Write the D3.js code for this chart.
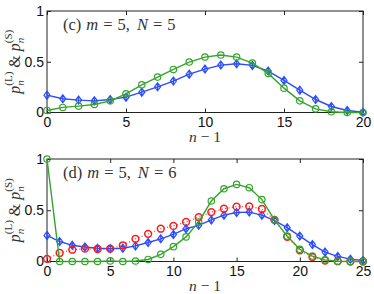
<!DOCTYPE html>
<html><head><meta charset="utf-8">
<script src="https://cdn.jsdelivr.net/npm/d3@7"></script>
<style>
html,body{margin:0;padding:0;background:#fff;}
svg{display:block;}
</style></head>
<body>
<svg id="chart" width="374" height="294"></svg>
<script>
// ---- data ----
const xC = d3.range(0, 21);
const blueC  = [0.171,0.135,0.122,0.115,0.128,0.151,0.200,0.253,0.310,0.378,0.428,0.467,0.480,0.464,0.408,0.316,0.220,0.128,0.059,0.020,0.003];
const greenC = [0.020,0.050,0.063,0.079,0.115,0.184,0.273,0.349,0.424,0.497,0.546,0.566,0.546,0.487,0.385,0.240,0.115,0.036,0.007,0.000,0.000];

const xD = d3.range(0, 26);
const blueD  = [0.254,0.195,0.158,0.142,0.129,0.125,0.129,0.152,0.185,0.221,0.264,0.320,0.353,0.406,0.452,0.478,0.482,0.452,0.399,0.330,0.248,0.165,0.092,0.050,0.023,0.010];
const redD   = [0.026,0.083,0.115,0.125,0.122,0.125,0.158,0.221,0.270,0.320,0.347,0.386,0.432,0.482,0.515,0.535,0.538,0.512,0.406,0.241,0.109,0.043,0.010,0.003,0.000,0.000];
const greenD = [1.000,0.000,0.000,0.000,0.000,0.006,0.000,0.005,0.020,0.070,0.145,0.240,0.386,0.590,0.710,0.752,0.720,0.604,0.406,0.248,0.119,0.053,0.016,0.003,0.000,0.000];

const xTicksC = [0,5,10,15,20];
const xTicksD = [0,5,10,15,20,25];
const yTicks = [0,0.5,1];
const yTickLabels = ["0","0.5","1"];
const labelC = ["(c)", "m", "5", "N", "5"];
const labelD = ["(d)", "m", "5", "N", "6"];

// ---- styles ----
const BLUE = "#2b4cff", GREEN = "#33a52a", RED = "#ff1a1a";
const svg = d3.select("#chart");

function panel(top, bottom, xs, xTicks, series, label) {
  const x = d3.scaleLinear().domain([xs[0], xs[xs.length-1]]).range([47, 363]);
  const y = d3.scaleLinear().domain([0, 1]).range([bottom, top]);
  const g = svg.append("g");

  g.append("rect").attr("x", 47).attr("y", top).attr("width", 316).attr("height", bottom - top)
    .attr("fill", "none").attr("stroke", "#222").attr("stroke-width", 1);

  const xb = g.append("g").attr("transform", `translate(0,${bottom})`)
    .call(d3.axisBottom(x).tickValues(xTicks).tickSize(-4).tickPadding(5).tickFormat(d3.format("d")));
  const xt = g.append("g").attr("transform", `translate(0,${top})`)
    .call(d3.axisTop(x).tickValues(xTicks).tickSize(-4).tickFormat(""));
  const yl = g.append("g").attr("transform", `translate(47,0)`)
    .call(d3.axisLeft(y).tickValues(yTicks).tickSize(-4).tickPadding(3).tickFormat((d,i)=>yTickLabels[i]));
  const yr = g.append("g").attr("transform", `translate(363,0)`)
    .call(d3.axisRight(y).tickValues(yTicks).tickSize(-4).tickFormat(""));
  [xb, xt, yl, yr].forEach(a => {
    a.select(".domain").remove();
    a.selectAll(".tick line").attr("stroke", "#222");
    a.selectAll("text").attr("font-family", "Liberation Sans, Arial, sans-serif")
      .attr("font-size", 14).attr("fill", "#111");
  });

  series.forEach(s => {
    const line = d3.line().x((d,i)=>x(xs[i])).y(d=>y(d));
    g.append("path").datum(s.values).attr("d", line).attr("fill", "none")
      .attr("stroke", s.color).attr("stroke-width", s.dotted ? 1.2 : 1.4)
      .attr("stroke-dasharray", s.dotted ? "1.2,2.2" : null)
      .attr("opacity", s.dotted ? 0.8 : 1);
    const m = g.append("g");
    s.values.forEach((v, i) => {
      const cx = x(xs[i]), cy = y(v);
      if (s.marker === "diamond") {
        m.append("path").attr("d", `M${cx},${cy-4}L${cx+3},${cy}L${cx},${cy+4}L${cx-3},${cy}Z M${cx},${cy-4}L${cx},${cy+4}`)
          .attr("fill", "none").attr("stroke", s.color).attr("stroke-width", 1.2);
      } else if (s.marker === "circleRed") {
        m.append("circle").attr("cx", cx).attr("cy", cy).attr("r", 3.4)
          .attr("fill", "none").attr("stroke", s.color).attr("stroke-width", 1.5);
      } else {
        m.append("circle").attr("cx", cx).attr("cy", cy).attr("r", 3.2)
          .attr("fill", "none").attr("stroke", s.color).attr("stroke-width", 1.2);
      }
    });
  });

  // annotation
  const t = g.append("text").attr("x", 63).attr("y", top + 19)
    .attr("font-family", "Liberation Serif, Times New Roman, serif").attr("font-size", 16.5).attr("fill", "#333");
  t.append("tspan").text(label[0]);
  t.append("tspan").attr("dx", 5).attr("font-style", "italic").text(label[1]);
  t.append("tspan").attr("dx", 5).text("=");
  t.append("tspan").attr("dx", 5).text(label[2] + ",");
  t.append("tspan").attr("dx", 7).attr("font-style", "italic").text(label[3]);
  t.append("tspan").attr("dx", 5).text("=");
  t.append("tspan").attr("dx", 5).text(label[4]);

  // x label
  const xlab = svg.append("text").attr("x", 205).attr("y", bottom + 29).attr("text-anchor", "middle")
    .attr("font-family", "Liberation Serif, Times New Roman, serif").attr("font-size", 15.5).attr("fill", "#333");
  xlab.append("tspan").attr("font-style", "italic").text("n");
  xlab.append("tspan").text(" \u2212 1");

  // y label
  const cy = (top + bottom) / 2;
  const yl2 = svg.append("text").attr("transform", `translate(20,${cy}) rotate(-90)`).attr("text-anchor", "middle")
    .attr("font-family", "Liberation Serif, Times New Roman, serif").attr("font-size", 16).attr("fill", "#333");
  yl2.append("tspan").attr("font-style", "italic").text("p");
  yl2.append("tspan").attr("font-style", "italic").attr("font-size", 11).attr("dy", 4).text("n");
  yl2.append("tspan").attr("font-size", 11).attr("dx", -5.5).attr("dy", -12).text("(L)");
  yl2.append("tspan").attr("dy", 8).text(" & ");
  yl2.append("tspan").attr("font-style", "italic").text("p");
  yl2.append("tspan").attr("font-style", "italic").attr("font-size", 11).attr("dy", 4).text("n");
  yl2.append("tspan").attr("font-size", 11).attr("dx", -5.5).attr("dy", -12).text("(S)");
}

panel(11, 112.5, xC, xTicksC, [
  {values: blueC, color: BLUE, marker: "diamond"},
  {values: greenC, color: GREEN, marker: "circle"}
], labelC);

panel(159, 261.5, xD, xTicksD, [
  {values: blueD, color: BLUE, marker: "diamond"},
  {values: redD, color: RED, marker: "circleRed", dotted: true},
  {values: greenD, color: GREEN, marker: "circle"}
], labelD);
</script>
</body></html>
